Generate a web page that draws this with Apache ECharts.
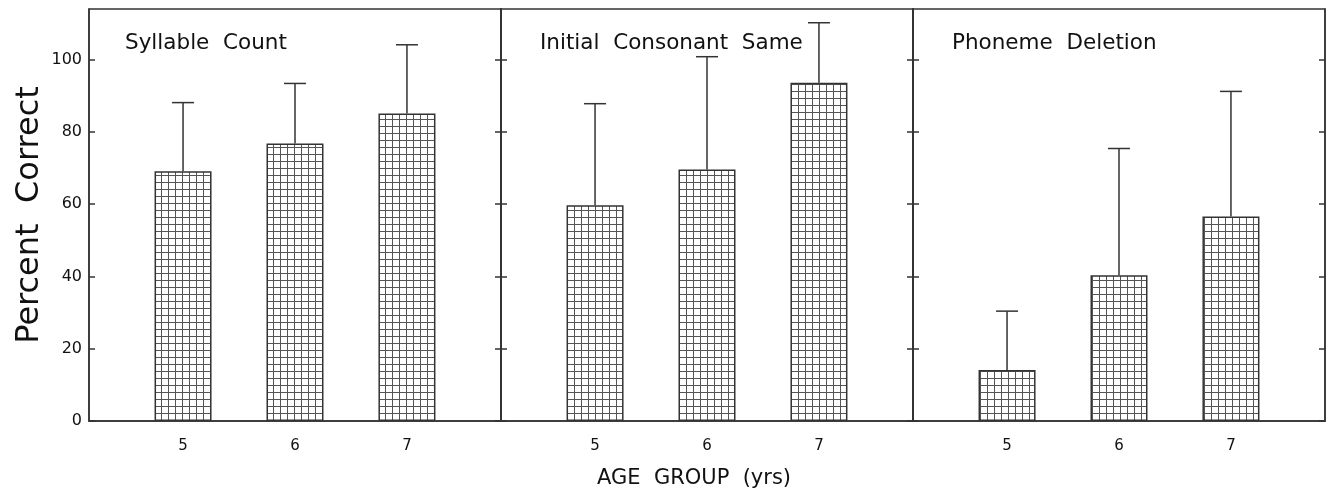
<!DOCTYPE html>
<html><head><meta charset="utf-8">
<script src="https://cdn.jsdelivr.net/npm/echarts@6/dist/echarts.min.js"></script>
<style>html,body{margin:0;padding:0;background:#fff}#c{width:1336px;height:494px}</style>
</head><body><div id="c"></div>
<script>
const categories = [5, 6, 7];
const panelTitles = ['Syllable  Count', 'Initial  Consonant  Same', 'Phoneme  Deletion'];
const syllableMeans = [69.1, 76.8, 85.1];
const syllableUpper = [88.1, 93.4, 104.1];
const consonantMeans = [59.7, 69.6, 93.6];
const consonantUpper = [87.8, 100.8, 110.2];
const deletionMeans = [14.1, 40.3, 56.6];
const deletionUpper = [30.4, 75.4, 91.2];
const yTicks = [0, 20, 40, 60, 80, 100];
const yAxisTitle = 'Percent  Correct';
const xAxisTitle = 'AGE  GROUP  (yrs)';

const means = [syllableMeans, consonantMeans, deletionMeans];
const uppers = [syllableUpper, consonantUpper, deletionUpper];

const FONT = 'DejaVu Sans';
const LINE = '#333';

// hatch pattern
const pc = document.createElement('canvas');
pc.width = 7; pc.height = 7;
const pctx = pc.getContext('2d');
pctx.fillStyle = '#fff'; pctx.fillRect(0, 0, 7, 7);
pctx.strokeStyle = '#555'; pctx.lineWidth = 1;
pctx.beginPath();
pctx.moveTo(0.5, 0); pctx.lineTo(0.5, 7);
pctx.moveTo(0, 0.5); pctx.lineTo(7, 0.5);
pctx.stroke();

const panelLeft = [89, 501, 913];
const titleOffset = [31, 34, 34];
const panelW = 412;
const grids = [], xAxes = [], yAxes = [], series = [], titles = [];
for (let i = 0; i < 3; i++) {
  grids.push({left: panelLeft[i], width: panelW, top: 9, height: 412,
    containLabel: false, outerBoundsMode: 'none',
    show: true, borderColor: LINE, borderWidth: 1.5, backgroundColor: 'transparent'});
  xAxes.push({type: 'value', gridIndex: i, min: 4.16, max: 7.84,
    axisLine: {show: true, lineStyle: {color: LINE, width: 1.5}},
    axisTick: {show: false}, splitLine: {show: false},
    axisLabel: {customValues: categories, color: '#111', fontFamily: FONT, fontSize: 15, margin: 18}});
  yAxes.push({type: 'value', gridIndex: i, position: 'left', min: 0, max: 114, interval: 20,
    axisLine: {show: true, lineStyle: {color: LINE, width: 1.5}},
    axisTick: {show: true, inside: true, length: 6, lineStyle: {color: LINE, width: 1.5},
      customValues: yTicks},
    splitLine: {show: false},
    axisLabel: {show: i === 0, customValues: yTicks, color: '#111', fontFamily: FONT, fontSize: 16, margin: 7},
    name: i === 0 ? yAxisTitle : '', nameLocation: 'middle', nameGap: 43, nameRotate: 90,
    nameTextStyle: {color: '#111', fontFamily: FONT, fontSize: 32}});
  yAxes.push({type: 'value', gridIndex: i, position: 'right', min: 0, max: 114, interval: 20,
    axisLine: {show: true, lineStyle: {color: LINE, width: 1.5}},
    axisTick: {show: true, inside: true, length: 6, lineStyle: {color: LINE, width: 1.5},
      customValues: yTicks},
    splitLine: {show: false}, axisLabel: {show: false}});
  series.push({type: 'bar', xAxisIndex: i, yAxisIndex: 2 * i, barWidth: 57,
    data: categories.map((c, j) => [c, means[i][j]]),
    itemStyle: {color: {image: pc, repeat: 'repeat'}, borderColor: LINE, borderWidth: 1.5},
    silent: true});
  series.push({type: 'custom', xAxisIndex: i, yAxisIndex: 2 * i,
    data: categories.map((c, j) => [c, means[i][j], uppers[i][j]]),
    encode: {x: 0, y: [1, 2]},
    renderItem: function (params, api) {
      const x = api.value(0);
      const p0 = api.coord([x, api.value(1)]);
      const p1 = api.coord([x, api.value(2)]);
      const st = {stroke: LINE, lineWidth: 1.5};
      return {type: 'group', children: [
        {type: 'line', shape: {x1: p0[0], y1: p0[1], x2: p1[0], y2: p1[1]}, style: st},
        {type: 'line', shape: {x1: p1[0] - 11, y1: p1[1], x2: p1[0] + 11, y2: p1[1]}, style: st}
      ]};
    }, silent: true, z: 3});
  titles.push({text: panelTitles[i], left: panelLeft[i] + titleOffset[i], top: 27,
    textStyle: {color: '#111', fontFamily: FONT, fontSize: 21.5, fontWeight: 'normal'}});
}
titles.push({text: xAxisTitle, left: 592, top: 463,
  textStyle: {color: '#111', fontFamily: FONT, fontSize: 21, fontWeight: 'normal'}});

const chart = echarts.init(document.getElementById('c'));
chart.setOption({animation: false, backgroundColor: '#fff',
  title: titles, grid: grids, xAxis: xAxes, yAxis: yAxes, series: series});
</script></body></html>
